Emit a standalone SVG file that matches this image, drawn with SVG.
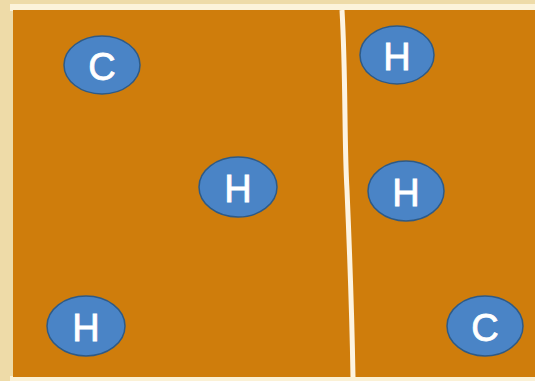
<svg xmlns="http://www.w3.org/2000/svg" width="535" height="381" viewBox="0 0 535 381">
<style>
.atom ellipse{fill:#4a84c6;stroke:#2e5a86;stroke-width:1.5}
.atom text{fill:#ffffff;stroke:#ffffff;stroke-width:0.8;font-family:"Liberation Sans",Arial,sans-serif;font-size:38px;text-anchor:middle;dominant-baseline:central}
</style>
<rect x="0" y="0" width="535" height="381" fill="#eedba8"/>
<rect x="10" y="4" width="525" height="7" fill="#fcf3da"/>
<rect x="10" y="376" width="525" height="5" fill="#fbf1d6"/>
<rect id="panel" x="13" y="10" width="522" height="367" fill="#cf7d0c"/>
<path id="divider" d="M342,10 C346,80 344,140 347,190 C350,260 352,320 353,377" fill="none" stroke="#fdf4e2" stroke-width="5"/>
<g id="c1" class="atom"><ellipse cx="102" cy="65" rx="38" ry="29"/><text x="102" y="67">C</text></g>
<g id="h1" class="atom"><ellipse cx="238" cy="187" rx="39" ry="30"/><text x="238" y="189">H</text></g>
<g id="h2" class="atom"><ellipse cx="86" cy="326" rx="39" ry="30"/><text x="86" y="328">H</text></g>
<g id="h3" class="atom"><ellipse cx="397" cy="55" rx="37" ry="29"/><text x="397" y="57">H</text></g>
<g id="h4" class="atom"><ellipse cx="406" cy="191" rx="38" ry="30"/><text x="406" y="193">H</text></g>
<g id="c2" class="atom"><ellipse cx="485" cy="326" rx="38" ry="30"/><text x="485" y="328">C</text></g>
</svg>
